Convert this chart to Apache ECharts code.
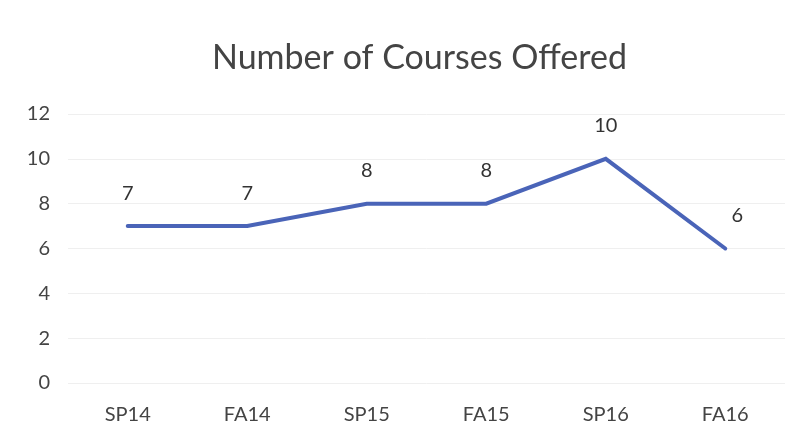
<!DOCTYPE html>
<html>
<head>
<meta charset="utf-8">
<script src="https://cdn.jsdelivr.net/npm/echarts@6/dist/echarts.min.js"></script>
<style>
  html, body { margin: 0; padding: 0; background: #fff; }
  #main { width: 807px; height: 444px; }
</style>
</head>
<body>
<div id="main"></div>
<script>
  var terms = ['SP14', 'FA14', 'SP15', 'FA15', 'SP16', 'FA16'];
  var courses = [7, 7, 8, 8, 10, 6];
  var yTicks = [0, 2, 4, 6, 8, 10, 12];

  // last label sits a little to the right in the original
  var seriesData = courses.map(function (v, i) {
    if (i === courses.length - 1) {
      return { value: v, label: { offset: [12, 0] } };
    }
    return v;
  });

  var chart = echarts.init(document.getElementById('main'));
  var option = {
    backgroundColor: '#fff',
    animation: false,
    title: {
      text: 'Number of Courses Offered',
      left: 207,
      top: 36,
      textStyle: { fontFamily: 'Lato', fontWeight: 'normal', fontSize: 34, color: '#444' }
    },
    grid: { left: 68, right: 22, top: 114, bottom: 61 },
    xAxis: {
      type: 'category',
      data: terms,
      axisLine: { show: false },
      axisTick: { show: false },
      axisLabel: { fontFamily: 'Lato', fontSize: 20, color: '#444', margin: 22 }
    },
    yAxis: {
      type: 'value',
      min: yTicks[0],
      max: yTicks[yTicks.length - 1],
      interval: 2,
      axisLine: { show: false },
      axisTick: { show: false },
      axisLabel: { fontFamily: 'Lato', fontSize: 20, color: '#444', margin: 18 },
      splitLine: { lineStyle: { color: '#efefef', width: 1 } }
    },
    series: [{
      type: 'line',
      data: seriesData,
      symbol: 'circle',
      symbolSize: 2,
      showSymbol: true,
      itemStyle: { color: 'rgba(74,100,184,0)', borderWidth: 0 },
      lineStyle: { color: '#4a64b8', width: 4, cap: 'round', join: 'miter' },
      label: {
        show: true,
        position: 'top',
        distance: 22,
        fontFamily: 'Lato',
        fontSize: 20,
        color: '#333'
      }
    }]
  };
  chart.setOption(option);
</script>
</body>
</html>
